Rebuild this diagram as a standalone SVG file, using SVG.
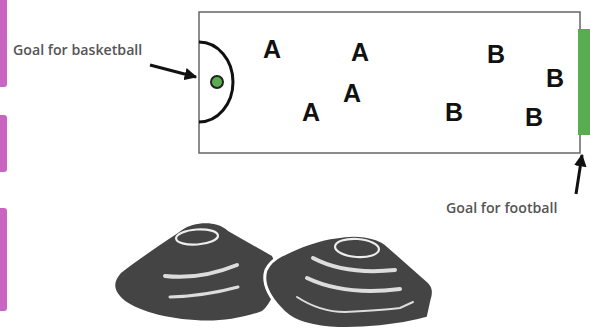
<svg xmlns="http://www.w3.org/2000/svg" width="590" height="330" viewBox="0 0 590 330">
  <style>
    .label { font-family: "Open Sans", "Liberation Sans", sans-serif; font-size: 14.2px; font-weight: 600; fill: #555; }
    .team { font-family: "Liberation Sans", Arial, sans-serif; font-size: 25px; font-weight: bold; fill: #111; text-anchor: middle; }
    .tab { fill: #c964c1; }
    .cone { fill: #444; }
    .mark { fill: none; stroke: #ddd; stroke-linecap: round; }
  </style>
  <defs>
    <marker id="head" viewBox="0 0 10 10" refX="9" refY="5" markerWidth="4.2" markerHeight="4.2" orient="auto" markerUnits="strokeWidth">
      <path d="M0,0 L10,5 L0,10 Z" fill="#111"/>
    </marker>
  </defs>
  <rect width="590" height="330" fill="#fff"/>

  <!-- side tabs -->
  <g id="tabs">
    <rect class="tab" x="-4" y="-4" width="11" height="91" rx="3"/>
    <rect class="tab" x="-4" y="115" width="11" height="57" rx="3"/>
    <rect class="tab" x="-4" y="208" width="11" height="103" rx="3"/>
  </g>

  <!-- pitch -->
  <g id="pitch">
    <rect x="199" y="12" width="381" height="141" fill="#fff" stroke="#666" stroke-width="1.5"/>
    <rect x="578" y="29" width="14" height="106" fill="#5aac50"/>
    <path d="M199,42 A34,40 0 0 1 199,122" fill="none" stroke="#111" stroke-width="3"/>
    <circle cx="217" cy="82" r="6" fill="#5aac50" stroke="#222" stroke-width="2"/>
  </g>

  <!-- players -->
  <g id="players">
    <text class="team" x="272" y="58">A</text>
    <text class="team" x="360" y="61">A</text>
    <text class="team" x="352" y="102">A</text>
    <text class="team" x="311" y="121">A</text>
    <text class="team" x="496" y="63">B</text>
    <text class="team" x="555" y="87">B</text>
    <text class="team" x="454" y="121">B</text>
    <text class="team" x="534" y="126">B</text>
  </g>

  <!-- labels -->
  <g id="label-basketball">
    <text class="label" x="13" y="55">Goal for basketball</text>
  </g>
  <g id="label-football">
    <text class="label" x="446" y="213">Goal for football</text>
  </g>

  <!-- pointers -->
  <g id="connectors" stroke="#111" stroke-width="3" fill="none">
    <line x1="150" y1="65" x2="196" y2="77" marker-end="url(#head)"/>
    <line x1="576" y1="194" x2="582" y2="155" marker-end="url(#head)"/>
  </g>

  <!-- cones -->
  <g id="cone-left">
    <path class="cone" d="M182,230 C194,222 216,220 228,231 L272,256 C280,272 276,300 262,311 C240,319 215,322 195,320 C160,318 130,308 120,296 C113,288 114,281 121,273 C140,258 165,242 182,230 Z"/>
    <ellipse cx="197" cy="237" rx="21" ry="7.5" fill="none" stroke="#eee" stroke-width="2.2" transform="rotate(-4 197 237)"/>
    <path class="mark" stroke-width="4" d="M165,276 Q200,280 237,265"/>
    <path class="mark" stroke-width="1.2" stroke="#999" d="M165,276 Q200,280 237,265"/>
    <path class="mark" stroke-width="3" d="M170,297 Q205,296 238,287"/>
  </g>
  <g id="cone-right">
    <path class="cone" stroke="#fff" stroke-width="3" d="M282,255 C300,246 318,239 336,237 C356,233 375,236 386,244 L428,281 C434,286 434,294 432,300 L428,318 C400,326 360,330 330,328 C305,326 290,320 280,308 C268,295 262,282 266,270 C270,262 276,258 282,255 Z"/>
    <ellipse cx="357" cy="248" rx="22" ry="9" fill="none" stroke="#eee" stroke-width="2.2" transform="rotate(4 357 248)"/>
    <path class="mark" stroke-width="4" d="M313,258 Q345,275 395,270"/>
    <path class="mark" stroke-width="1.2" stroke="#999" d="M313,258 Q345,275 395,270"/>
    <path class="mark" stroke-width="4" d="M307,278 Q345,296 400,289"/>
    <path class="mark" stroke-width="1.2" stroke="#999" d="M307,278 Q345,296 400,289"/>
    <path class="mark" stroke-width="2" d="M297,297 Q320,312 345,312 Q385,310 400,308 L413,302"/>
  </g>
</svg>
